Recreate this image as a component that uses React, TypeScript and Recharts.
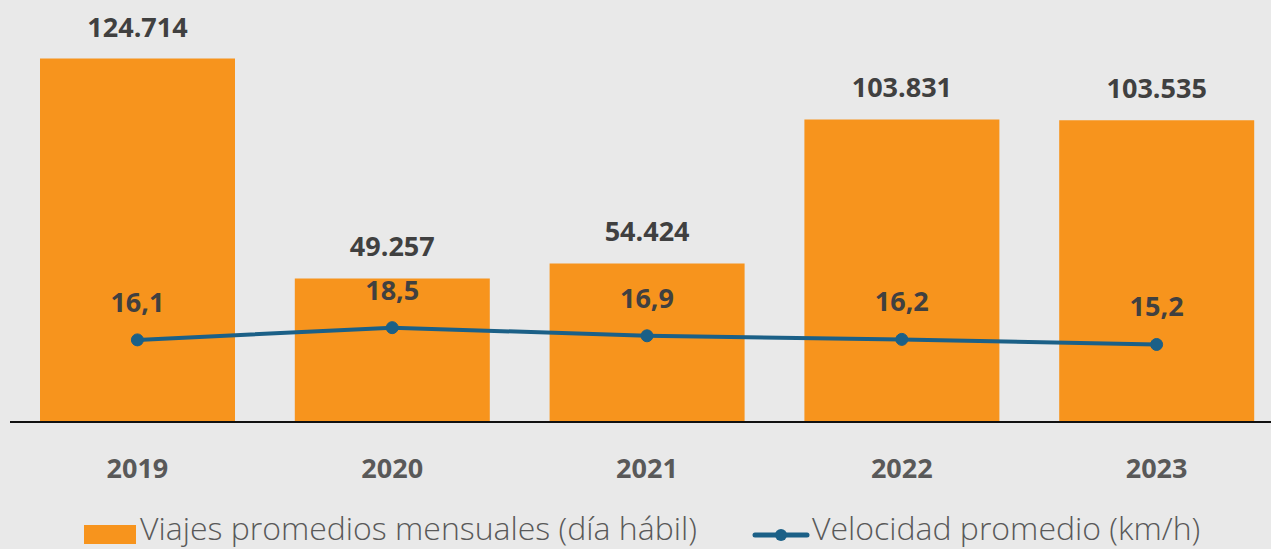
import React from "react";
import { ComposedChart, Bar, Line, XAxis, YAxis, LabelList, Legend } from "recharts";

const years = ["2019", "2020", "2021", "2022", "2023"];
const viajes = [124714, 49257, 54424, 103831, 103535];
const velocidad = [16.1, 18.5, 16.9, 16.2, 15.2];
const viajesLabels = ["124.714", "49.257", "54.424", "103.831", "103.535"];
const velocidadLabels = ["16,1", "18,5", "16,9", "16,2", "15,2"];
const seriesNames = ["Viajes promedios mensuales (día hábil)", "Velocidad promedio (km/h)"];

const data = years.map((y, i) => ({
  year: y,
  viajes: viajes[i],
  velocidad: velocidad[i],
  viajesLabel: viajesLabels[i],
  velocidadLabel: velocidadLabels[i],
}));

const ORANGE = "#f7941d";
const BLUE = "#1b6087";
const FONT = "'Open Sans', 'DejaVu Sans', sans-serif";

const legendText: React.CSSProperties = {
  position: "absolute",
  top: 9,
  fontSize: 32,
  fontWeight: 300,
  color: "#595959",
  lineHeight: "40px",
  whiteSpace: "nowrap",
};

const LegendContent = () => (
  <div style={{ position: "relative", width: 1271, height: 50, fontFamily: FONT }}>
    <div style={{ position: "absolute", left: 84, top: 26, width: 52, height: 19, background: ORANGE }} />
    <div style={{ ...legendText, left: 140 }}>{seriesNames[0]}</div>
    <svg style={{ position: "absolute", left: 752, top: 26 }} width={58} height={20}>
      <line x1={3} y1={10} x2={55} y2={10} stroke={BLUE} strokeWidth={5} strokeLinecap="round" />
      <circle cx={29} cy={10} r={6} fill={BLUE} />
    </svg>
    <div style={{ ...legendText, left: 812 }}>{seriesNames[1]}</div>
  </div>
);

export default function App() {
  return (
    <div
      style={{
        position: "fixed",
        left: 0,
        top: 0,
        width: 1271,
        height: 549,
        overflow: "hidden",
        background: "#e9e9e9",
      }}
    >
      <ComposedChart
        width={1290}
        height={549}
        data={data}
        margin={{ top: 14, right: 6, left: 10, bottom: 0 }}
        barSize={195}
      >
        <XAxis
          dataKey="year"
          height={77}
          tickLine={false}
          tickSize={0}
          tickMargin={37}
          axisLine={{ stroke: "#111", strokeWidth: 2 }}
          tick={{ fill: "#595959", fontSize: 27, fontWeight: 700, fontFamily: FONT }}
        />
        <YAxis yAxisId="left" hide domain={[0, 140000]} />
        <YAxis yAxisId="right" orientation="right" hide domain={[0, 80]} />
        <Legend verticalAlign="bottom" content={<LegendContent />} wrapperStyle={{ left: 0, width: 1271, height: 50 }} />
        <Bar yAxisId="left" dataKey="viajes" name={seriesNames[0]} fill={ORANGE} isAnimationActive={false}>
          <LabelList
            dataKey="viajesLabel"
            position="top"
            offset={22}
            style={{ fill: "#404040", fontSize: 27, fontWeight: 700, fontFamily: FONT }}
          />
        </Bar>
        <Line
          yAxisId="right"
          dataKey="velocidad"
          name={seriesNames[1]}
          stroke={BLUE}
          strokeWidth={4}
          dot={{ r: 6, fill: BLUE, stroke: BLUE, strokeWidth: 1 }}
          isAnimationActive={false}
        >
          <LabelList
            dataKey="velocidadLabel"
            position="top"
            offset={28}
            style={{ fill: "#404040", fontSize: 27, fontWeight: 700, fontFamily: FONT }}
          />
        </Line>
      </ComposedChart>
    </div>
  );
}
